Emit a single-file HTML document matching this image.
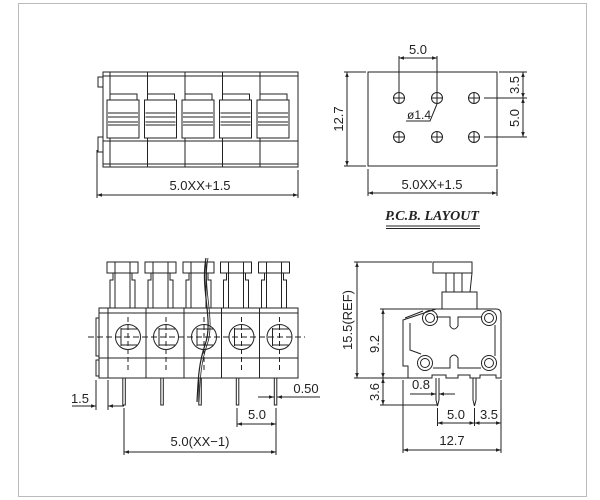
<!DOCTYPE html>
<html><head><meta charset="utf-8"><style>
html,body{margin:0;padding:0;background:#fff;}
svg{display:block;}
text{font-family:"Liberation Sans",sans-serif;fill:#222;}
</style></head><body>
<svg width="600" height="500" viewBox="0 0 600 500" xmlns="http://www.w3.org/2000/svg">
<defs>
<marker id="a" viewBox="0 0 10 10" refX="10" refY="5" markerWidth="7" markerHeight="5" orient="auto-start-reverse" markerUnits="userSpaceOnUse"><path d="M0,1.5 L10,5 L0,8.5z" fill="#222"/></marker>
</defs>
<rect x="18.5" y="3.5" width="568" height="493" fill="none" stroke="#bbb" stroke-width="1"/>
<g stroke="#222" stroke-width="1" fill="none">
<!-- TOP LEFT VIEW -->
<rect x="103" y="72" width="195" height="95"/>
<line x1="103" y1="76" x2="298" y2="76"/>
<line x1="103" y1="164" x2="298" y2="164"/>
<line x1="103" y1="141" x2="298" y2="141"/>
<rect x="98" y="77" width="5" height="10"/>
<rect x="98" y="137" width="5" height="15"/>
<g id="tl">
<line x1="110" y1="72" x2="110" y2="167"/>
<rect x="107" y="100" width="32" height="38" fill="#fff"/>
<rect x="110" y="94" width="27" height="6"/>
<line x1="108" y1="113" x2="138" y2="113"/><line x1="108" y1="117" x2="138" y2="117"/>
<line x1="108" y1="122" x2="138" y2="122"/><line x1="108" y1="125" x2="138" y2="125"/>
</g>
<use href="#tl" x="37.5"/><use href="#tl" x="75"/><use href="#tl" x="112.5"/><use href="#tl" x="150"/>
<line x1="97" y1="150" x2="97" y2="198"/><line x1="298" y1="170" x2="298" y2="198"/>
<line x1="97" y1="195" x2="298" y2="195" marker-start="url(#a)" marker-end="url(#a)"/>

<!-- PCB -->
<rect x="368" y="72" width="129" height="94"/>
<g id="h"><circle cx="399" cy="98" r="5.5"/><line x1="393.5" y1="98" x2="404.5" y2="98"/><line x1="399" y1="92.5" x2="399" y2="103.5"/></g>
<use href="#h" x="38"/><use href="#h" x="75"/>
<use href="#h" y="39"/><use href="#h" x="38" y="39"/><use href="#h" x="75" y="39"/>
<line x1="399" y1="56" x2="399" y2="92"/><line x1="437" y1="56" x2="437" y2="92"/>
<line x1="399" y1="58" x2="437" y2="58" marker-start="url(#a)" marker-end="url(#a)"/>
<polyline points="406,121 430,121 437,104"/>
<line x1="344" y1="72" x2="366" y2="72"/><line x1="344" y1="166" x2="366" y2="166"/>
<line x1="347" y1="72" x2="347" y2="166" marker-start="url(#a)" marker-end="url(#a)"/>
<line x1="499" y1="72" x2="527" y2="72"/><line x1="484" y1="98" x2="527" y2="98"/><line x1="484" y1="137" x2="527" y2="137"/>
<line x1="523" y1="72" x2="523" y2="98" marker-start="url(#a)" marker-end="url(#a)"/>
<line x1="523" y1="98" x2="523" y2="137" marker-start="url(#a)" marker-end="url(#a)"/>
<line x1="368" y1="169" x2="368" y2="196"/><line x1="497" y1="169" x2="497" y2="196"/>
<line x1="368" y1="193" x2="497" y2="193" marker-start="url(#a)" marker-end="url(#a)"/>
<line x1="386" y1="226" x2="480" y2="226"/><line x1="386" y1="228.5" x2="480" y2="228.5"/>

<!-- BOTTOM LEFT -->
<rect x="99" y="308" width="199" height="70"/>
<line x1="99" y1="313" x2="298" y2="313"/><line x1="99" y1="358" x2="298" y2="358"/>
<rect x="96" y="318" width="3" height="38"/><rect x="96" y="360" width="3" height="16"/>
<line x1="88" y1="337" x2="305" y2="337" stroke-dasharray="6,3"/>
<g id="bp">
<rect x="107" y="262" width="31" height="11" fill="#fff"/>
<polyline points="110,308 110,280 113,280 113,273 132,273 132,280 135,280 135,308"/>
<line x1="115" y1="262" x2="115" y2="308"/><line x1="130" y1="262" x2="130" y2="308"/>
<line x1="108" y1="308" x2="108" y2="378"/>
<circle cx="128" cy="337" r="12.5"/>
<line x1="121" y1="328" x2="121" y2="346"/>
<line x1="121" y1="329" x2="137" y2="329"/><line x1="121" y1="345" x2="137" y2="345"/>
<line x1="128" y1="317" x2="128" y2="372" stroke-dasharray="5,3"/>
<rect x="122.8" y="378" width="2.5" height="27"/>
</g>
<use href="#bp" x="38"/><use href="#bp" x="76"/><use href="#bp" x="113.5"/><use href="#bp" x="151.5"/>
<path d="M206,258 C200,290 214,320 205,345 C198,365 198,385 197,402" stroke-width="1.2"/>
<path d="M208,258 C202,290 216,320 207,345 C200,365 200,385 199,402" stroke-width="0.8"/>
<line x1="96" y1="380" x2="96" y2="410"/><line x1="108" y1="380" x2="108" y2="410"/>
<line x1="72" y1="406" x2="96" y2="406" marker-end="url(#a)"/><line x1="124" y1="406" x2="108" y2="406" marker-end="url(#a)"/>
<line x1="258" y1="397" x2="274" y2="397" marker-end="url(#a)"/><line x1="320" y1="397" x2="277" y2="397" marker-end="url(#a)"/>
<line x1="237" y1="408" x2="237" y2="427"/><line x1="276" y1="408" x2="276" y2="455"/>
<line x1="237" y1="424" x2="276" y2="424" marker-start="url(#a)" marker-end="url(#a)"/>
<line x1="124" y1="408" x2="124" y2="455"/>
<line x1="124" y1="452" x2="276" y2="452" marker-start="url(#a)" marker-end="url(#a)"/>

<!-- BOTTOM RIGHT -->
<rect x="433" y="262" width="39" height="11"/>
<polyline points="446,273 446,292 442,292 442,309"/>
<polyline points="472,273 470,292 477,292 477,309"/>
<line x1="454" y1="273" x2="454" y2="292"/><line x1="462" y1="273" x2="462" y2="292"/>
<line x1="442" y1="292" x2="470" y2="292"/>
<path d="M405,318 L423,311 M436,309 L496,309 Q501,309 501,314 L501,378 L496,378 L496,375 L480,375 L480,378 L470,378 L470,375 L458,375 L458,378 L446,378 L446,375 L432,375 L432,378 L408,378 L408,366 L403,366 L403,320 Z"/>
<path d="M410,323 L410,350 L421,354"/>
<path d="M436,317 L450,317 L450,326 Q454,332 458,326 L458,317 L482,317 M495,325 L495,356 M481,368 L458,368 L458,358 Q454,352 450,358 L450,368 L433,368"/>
<g id="rh"><circle cx="430" cy="318" r="7.5"/><circle cx="430" cy="318" r="4.5"/></g>
<use href="#rh" x="59"/><use href="#rh" x="-5" y="45"/><use href="#rh" x="59" y="45"/>
<path d="M436,378 L436,400 L437.5,406 L439,400 L439,378"/>
<path d="M473,378 L473,400 L474.5,406 L476,400 L476,378"/>
<line x1="354" y1="262" x2="432" y2="262"/><line x1="354" y1="378" x2="410" y2="378"/>
<line x1="357" y1="262" x2="357" y2="378" marker-start="url(#a)" marker-end="url(#a)"/>
<line x1="380" y1="309" x2="436" y2="309"/>
<line x1="383" y1="309" x2="383" y2="378" marker-start="url(#a)" marker-end="url(#a)"/>
<line x1="380" y1="405" x2="437" y2="405"/>
<line x1="383" y1="378" x2="383" y2="405" marker-start="url(#a)" marker-end="url(#a)"/>
<line x1="410" y1="394" x2="436" y2="394" marker-end="url(#a)"/><line x1="455" y1="394" x2="439" y2="394" marker-end="url(#a)"/>
<line x1="437.5" y1="408" x2="437.5" y2="426"/><line x1="474.5" y1="408" x2="474.5" y2="426"/>
<line x1="501" y1="380" x2="501" y2="453"/><line x1="403" y1="380" x2="403" y2="453"/>
<line x1="437.5" y1="423" x2="474.5" y2="423" marker-start="url(#a)" marker-end="url(#a)"/>
<line x1="474.5" y1="423" x2="501" y2="423" marker-start="url(#a)" marker-end="url(#a)"/>
<line x1="403" y1="450" x2="501" y2="450" marker-start="url(#a)" marker-end="url(#a)"/>
</g>
<g font-size="13">
<text x="200" y="190" text-anchor="middle">5.0XX+1.5</text>
<text x="418" y="54" text-anchor="middle">5.0</text>
<text x="407" y="119" font-size="12">ø1.4</text>
<text transform="translate(343,119) rotate(-90)" text-anchor="middle">12.7</text>
<text transform="translate(519,85) rotate(-90)" text-anchor="middle">3.5</text>
<text transform="translate(519,118) rotate(-90)" text-anchor="middle">5.0</text>
<text x="432" y="189" text-anchor="middle">5.0XX+1.5</text>
<text x="432" y="220" text-anchor="middle" style="font-family:'Liberation Serif',serif;font-weight:bold;font-style:italic;font-size:14px;">P.C.B.  LAYOUT</text>
<text x="80" y="403" text-anchor="middle">1.5</text>
<text x="306" y="393" text-anchor="middle">0.50</text>
<text x="257" y="419" text-anchor="middle">5.0</text>
<text x="200" y="446" text-anchor="middle">5.0(XX−1)</text>
<text transform="translate(352,320) rotate(-90)" text-anchor="middle">15.5(REF)</text>
<text transform="translate(379,344) rotate(-90)" text-anchor="middle">9.2</text>
<text transform="translate(379,392) rotate(-90)" text-anchor="middle">3.6</text>
<text x="421" y="389" text-anchor="middle">0.8</text>
<text x="456" y="419" text-anchor="middle">5.0</text>
<text x="489" y="419" text-anchor="middle">3.5</text>
<text x="452" y="445" text-anchor="middle">12.7</text>
</g>
</svg>
</body></html>
